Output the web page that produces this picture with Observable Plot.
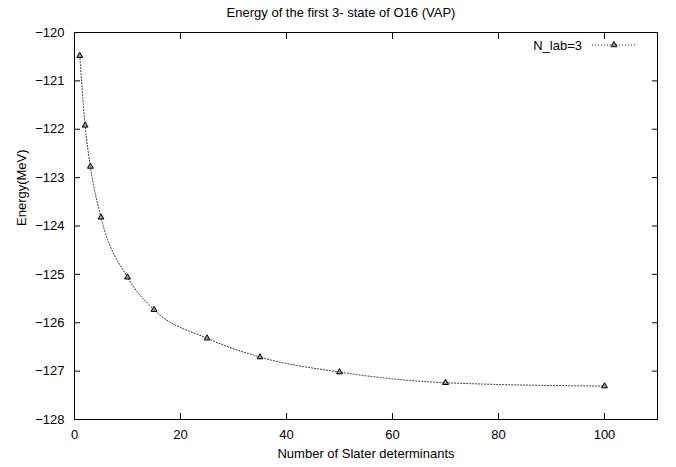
<!DOCTYPE html>
<html><head><meta charset="utf-8">
<script src="https://cdn.jsdelivr.net/npm/d3@7"></script>
<script src="https://cdn.jsdelivr.net/npm/@observablehq/plot@0.6"></script>
<style>
body{margin:0;background:#fff}
#chart svg{font-family:"Liberation Sans",Arial,Helvetica,sans-serif}
</style>
</head><body><div id="chart"></div>
<script>
const title = "Energy of the first 3- state of O16 (VAP)";
const seriesName = "N_lab=3";
const xLabel = "Number of Slater determinants";
const yLabel = "Energy(MeV)";
const nSlater = [1, 2, 3, 5, 10, 15, 25, 35, 50, 70, 100];
const energy = [-120.48, -121.92, -122.77, -123.82, -125.06, -125.73, -126.32, -126.71, -127.02, -127.24, -127.31];
const xTicks = [0, 20, 40, 60, 80, 100];
const yTicks = [-128, -127, -126, -125, -124, -123, -122, -121, -120];

const data = nSlater.map((x, i) => ({x, y: energy[i]}));
const triR = 2.2;
const triSize = Math.PI * triR * triR;

function legendMark(index, scales, values, dim) {
  const g = d3.create("svg:g");
  const right = dim.width - dim.marginRight;
  const y = dim.marginTop + 13;
  g.append("text").attr("x", right - 75).attr("y", y).attr("dy", "0.35em")
    .attr("text-anchor", "end").attr("font-size", 13).attr("fill", "#000").text(seriesName);
  g.append("line").attr("x1", right - 65).attr("x2", right - 20).attr("y1", y).attr("y2", y)
    .attr("stroke", "#222").attr("stroke-dasharray", "1,2");
  g.append("path").attr("transform", `translate(${right - 43},${y})`)
    .attr("d", d3.symbol(d3.symbolTriangle, triSize)()).attr("fill", "#999").attr("stroke", "#000");
  g.append("text").attr("x", dim.width / 2 + 3).attr("y", 12).attr("dy", "0.35em")
    .attr("text-anchor", "middle").attr("font-size", 13).attr("fill", "#000").text(title);
  return g.node();
}

const chart = Plot.plot({
  width: 676,
  height: 467,
  marginLeft: 74,
  marginRight: 19,
  marginTop: 32,
  marginBottom: 48,
  style: {fontSize: "13px", color: "#000", background: "#fff", overflow: "visible"},
  x: {domain: [0, 110]},
  y: {domain: [-128, -120]},
  marks: [
    Plot.axisX(xTicks, {anchor: "bottom", tickSize: 0, tickPadding: 10, label: null}),
    Plot.axisX(xTicks, {anchor: "bottom", tickSize: -6, tickFormat: () => "", label: null}),
    Plot.axisX(xTicks, {anchor: "top", tickSize: -6, tickFormat: () => "", label: null}),
    Plot.axisY(yTicks, {anchor: "left", tickSize: 0, tickPadding: 10, label: null}),
    Plot.axisY(yTicks, {anchor: "left", tickSize: -6, tickFormat: () => "", label: null}),
    Plot.axisY(yTicks, {anchor: "right", tickSize: -6, tickFormat: () => "", label: null}),
    Plot.frame({stroke: "#000", strokeWidth: 1}),
    Plot.text([xLabel], {frameAnchor: "bottom", dy: 38, text: d => d, fontSize: 13, fill: "#000"}),
    Plot.text([yLabel], {frameAnchor: "left", dx: -53, rotate: -90, text: d => d, fontSize: 13, fill: "#000"}),
    Plot.line(data, {x: "x", y: "y", curve: "monotone-x", stroke: "#222", strokeWidth: 1, strokeDasharray: "1,2"}),
    Plot.dot(data, {x: "x", y: "y", symbol: "triangle", r: triR, fill: "#999", stroke: "#000", strokeWidth: 1}),
    legendMark
  ]
});
document.getElementById("chart").appendChild(chart);
</script>
</body></html>
